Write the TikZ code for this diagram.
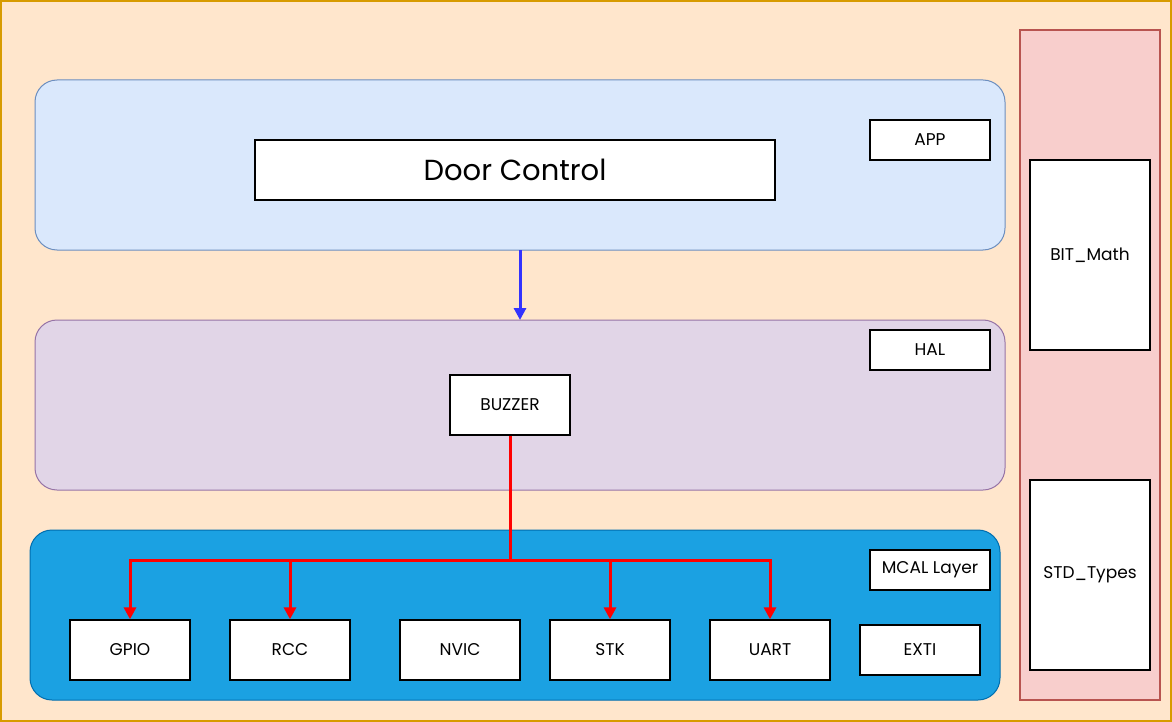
\documentclass[tikz,border=0pt]{standalone}
\usepackage{fontspec}
\setmainfont{Poppins}
\usetikzlibrary{arrows.meta}
\definecolor{bgfill}{HTML}{FFE6CC}
\definecolor{bgdraw}{HTML}{D79B00}
\definecolor{appfill}{HTML}{DAE8FC}
\definecolor{appdraw}{HTML}{6C8EBF}
\definecolor{halfill}{HTML}{E1D5E7}
\definecolor{haldraw}{HTML}{9673A6}
\definecolor{mcalfill}{HTML}{1BA1E2}
\definecolor{mcaldraw}{HTML}{006EAF}
\definecolor{libfill}{HTML}{F8CECC}
\definecolor{libdraw}{HTML}{B85450}
\definecolor{bluearrow}{HTML}{3333FF}
\definecolor{redarrow}{HTML}{FF0000}
\tikzset{
  layer/.style={rounded corners=22pt, line width=1pt},
  modbox/.style={draw=black, fill=white, line width=1.3pt, inner sep=0pt, font=\fontsize{17}{19}\selectfont},
  redarr/.style={draw=redarrow, line width=3pt, -{Triangle[length=12pt,width=12pt]}},
}
\begin{document}
\begin{tikzpicture}[x=1pt,y=-1pt]
\useasboundingbox (0,0) rectangle (1172,722);
\fill[bgfill] (0,0) rectangle (1172,722);
\draw[bgdraw, line width=2pt] (1,1) rectangle (1171,721);
% library panel
\draw[libdraw, fill=libfill, line width=1.2pt] (1020,30) rectangle (1160,700);
\node[modbox, minimum width=120pt, minimum height=190pt] (bit) at (1090,255) {BIT\_Math};
\node[modbox, minimum width=120pt, minimum height=190pt] (std) at (1090,575) {STD\_Types};
% layers
\draw[layer, draw=appdraw, fill=appfill] (35,80) rectangle (1005,250);
\draw[layer, draw=haldraw, fill=halfill] (35,320) rectangle (1005,490);
\draw[layer, draw=mcaldraw, fill=mcalfill] (30,530) rectangle (1000,700);
% APP
\node[modbox, minimum width=520pt, minimum height=60pt, font=\fontsize{29}{32}\selectfont] (door) at (515,170) {Door Control};
\node[modbox, minimum width=120pt, minimum height=40pt] (app) at (930,140) {APP};
% HAL
\node[modbox, minimum width=120pt, minimum height=40pt] (hal) at (930,350) {HAL};
\node[modbox, minimum width=120pt, minimum height=60pt] (buzzer) at (510,405) {BUZZER};
% MCAL
\node[modbox, minimum width=120pt, minimum height=40pt] (mcal) at (930,570) {MCAL Layer};
\node[modbox, minimum width=120pt, minimum height=60pt] (gpio) at (130,650) {GPIO};
\node[modbox, minimum width=120pt, minimum height=60pt] (rcc) at (290,650) {RCC};
\node[modbox, minimum width=120pt, minimum height=60pt] (nvic) at (460,650) {NVIC};
\node[modbox, minimum width=120pt, minimum height=60pt] (stk) at (610,650) {STK};
\node[modbox, minimum width=120pt, minimum height=60pt] (uart) at (770,650) {UART};
\node[modbox, minimum width=120pt, minimum height=50pt] (exti) at (920,650) {EXTI};
% connectors
\coordinate (appbot) at (520,250);
\coordinate (haltop) at (520,320);
\draw[bluearrow, line width=3pt, -{Triangle[length=12pt,width=12pt]}] (appbot) -- (haltop);
\coordinate (split) at (510,560);
\draw[redarr] (buzzer.south) -- (split) -| (gpio.north);
\draw[redarr] (split) -| (rcc.north);
\draw[redarr] (split) -| (stk.north);
\draw[redarr] (split) -| (uart.north);
\end{tikzpicture}
\end{document}
